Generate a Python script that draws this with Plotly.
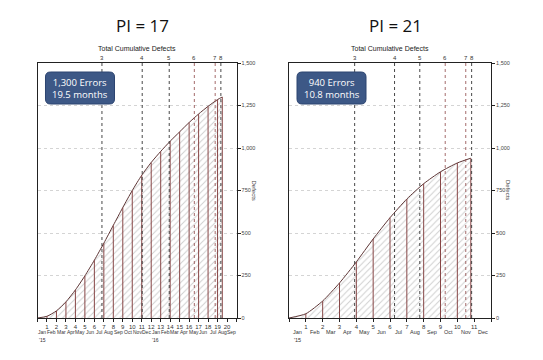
import plotly.graph_objects as go

# page body has an 8px margin: figure pixel = reference pixel - 8
OFF = 8
W, H = 543 - OFF, 360 - OFF

# ---------------- data ----------------
left_months = [0, 1, 2, 3, 4, 5, 6, 7, 8, 9, 10, 11, 12, 13, 14, 15, 16, 17, 18, 19, 19.5]
left_defects = [0, 10, 42, 95, 165, 248, 340, 440, 545, 650, 750, 840, 915, 980, 1040,
                1095, 1150, 1200, 1245, 1285, 1300]
left_milestones = [6.8, 11.05, 13.9, 16.55, 18.75, 19.35]
left_month_names = ["Jan", "Feb", "Mar", "Apr", "May", "Jun", "Jul", "Aug", "Sep", "Oct",
                    "Nov", "Dec", "Jan", "Feb", "Mar", "Apr", "May", "Jun", "Jul", "Aug", "Sep"]
left_years = {0: "'15", 12: "'16"}

right_months = [0, 1, 2, 3, 4, 5, 6, 7, 8, 9, 10, 10.8]
right_defects = [0, 25, 100, 206, 330, 465, 590, 700, 790, 860, 912, 940]
right_milestones = [3.9, 6.27, 7.77, 9.28, 10.5, 10.85]
right_month_names = ["Jan", "Feb", "Mar", "Apr", "May", "Jun", "Jul", "Aug", "Sep", "Oct",
                     "Nov", "Dec"]
right_years = {0: "'15"}

milestone_labels = ["3", "4", "5", "6", "7", "8"]
y_ticks = [0, 250, 500, 750, 1000, 1250, 1500]
y_ticktext = ["0", "250", "500", "750", "1,000", "1,250", "1,500"]

panels = [
    dict(title="PI = 17", box=["1,300 Errors", "19.5 months"], months=left_months,
         defects=left_defects, milestones=left_milestones, names=left_month_names,
         years=left_years, xmax=21, px=(37.5, 236.5), mfs=5),
    dict(title="PI = 21", box=["940 Errors", "10.8 months"], months=right_months,
         defects=right_defects, milestones=right_milestones, names=right_month_names,
         years=right_years, xmax=12, px=(289, 491), mfs=5.5),
]

TOP, BOT = 63, 318
FONT = "Liberation Sans"


def PX(x):
    return (x - OFF) / W


def PY(y):
    return 1 - (y - OFF) / H


fig = go.Figure()
annotations = []
shapes = []


def ann(**kw):
    kw.setdefault("showarrow", False)
    kw.setdefault("xanchor", "center")
    kw.setdefault("yanchor", "middle")
    annotations.append(kw)


for i, p in enumerate(panels):
    xa = "x" if i == 0 else "x2"
    ya = "y" if i == 0 else "y2"
    # hatched area
    fig.add_trace(go.Scatter(
        x=p["months"], y=p["defects"], xaxis=xa, yaxis=ya, mode="lines",
        line=dict(color="#5e3636", width=1, shape="spline", smoothing=0.6),
        fill="tozeroy",
        fillpattern=dict(shape="/", fgcolor="#a0a0a0", bgcolor="white", size=4.5, solidity=0.22),
        fillcolor="white", hoverinfo="skip", showlegend=False))
    # monthly vertical bars
    bx, by = [], []
    for m, v in zip(p["months"][1:], p["defects"][1:]):
        bx += [m, m, None]
        by += [0, v, None]
    fig.add_trace(go.Scatter(x=bx, y=by, xaxis=xa, yaxis=ya, mode="lines",
                             line=dict(color="#874646", width=1),
                             hoverinfo="skip", showlegend=False))
    # milestone dashed lines
    for j, m in enumerate(p["milestones"]):
        col = "#9a5a5a" if j in (3, 4) else "#333333"
        fig.add_trace(go.Scatter(x=[m, m], y=[0, 1500], xaxis=xa, yaxis=ya, mode="lines",
                                 line=dict(color=col, width=0.9, dash="dot"),
                                 hoverinfo="skip", showlegend=False))
        ann(x=m, xref=xa, y=PY(58.5), yref="paper", text=milestone_labels[j],
            font=dict(size=6, color="#333", family=FONT))
    # month labels
    for k, nm in enumerate(p["names"]):
        ann(x=k + 0.5, xref=xa, y=PY(332), yref="paper", text=nm,
            font=dict(size=p["mfs"], color="#333", family=FONT))
    for k, yr in p["years"].items():
        ann(x=k + 0.5, xref=xa, y=PY(340), yref="paper", text=yr,
            font=dict(size=p["mfs"], color="#333", family=FONT))
    x0, x1 = p["px"]
    xc = (x0 + x1) / 2
    # titles
    ann(x=PX(xc), xref="paper", y=PY(49), yref="paper", text="Total Cumulative Defects",
        font=dict(size=7, color="#222", family=FONT))
    ann(x=PX(xc + 5), xref="paper", y=PY(25), yref="paper", text=p["title"],
        font=dict(size=17, color="#111", family="Open Sans"))
    ann(x=PX(x1 + 17), xref="paper", y=PY(190), yref="paper", text="Defects", textangle=90,
        font=dict(size=6, color="#444", family=FONT))
    # rounded info box
    bl, br, bt, bb = x0 + 8, x0 + 77, 72, 104
    r = 5

    def P(x, y):
        return f"{PX(x):.5f},{PY(y):.5f}"
    path = (f"M {P(bl + r, bt)} L {P(br - r, bt)} Q {P(br, bt)} {P(br, bt + r)} "
            f"L {P(br, bb - r)} Q {P(br, bb)} {P(br - r, bb)} L {P(bl + r, bb)} "
            f"Q {P(bl, bb)} {P(bl, bb - r)} L {P(bl, bt + r)} Q {P(bl, bt)} {P(bl + r, bt)} Z")
    shapes.append(dict(type="path", xref="paper", yref="paper", path=path,
                       fillcolor="#3d5886", line=dict(color="#2c4470", width=1)))
    ann(x=PX((bl + br) / 2), xref="paper", y=PY((bt + bb) / 2), yref="paper",
        text="<br>".join(p["box"]), align="center",
        font=dict(size=9.5, color="white", family="Open Sans"))


def xaxis(pan, x0, x1):
    n = pan["xmax"]
    vals = list(range(0, n + 1))
    txt = [str(v) if 0 < v < n else "" for v in vals]
    return dict(domain=[PX(x0), PX(x1)], range=[0, n], tickvals=vals, ticktext=txt,
                ticks="outside", ticklen=3, tickcolor="#222",
                tickfont=dict(size=6, color="#333", family=FONT),
                showgrid=False, zeroline=False, showline=True, linecolor="#222", linewidth=1,
                mirror=True, fixedrange=True)


def yaxis(anchor):
    return dict(domain=[PY(BOT), PY(TOP)], range=[0, 1500], side="right", anchor=anchor,
                tickvals=y_ticks, ticktext=y_ticktext, ticks="outside", ticklen=3,
                tickcolor="#222", tickfont=dict(size=5.5, color="#444", family=FONT),
                showgrid=True, gridcolor="#d4d4d4", griddash="dot", gridwidth=1,
                zeroline=False, showline=True, linecolor="#222", linewidth=1, mirror=True,
                fixedrange=True)


xa1 = xaxis(panels[0], *panels[0]["px"]); xa1["anchor"] = "y"
xa2 = xaxis(panels[1], *panels[1]["px"]); xa2["anchor"] = "y2"

fig.update_layout(
    width=W, height=H, margin=dict(l=0, r=0, t=0, b=0, autoexpand=False),
    paper_bgcolor="white", plot_bgcolor="white",
    xaxis=xa1, xaxis2=xa2, yaxis=yaxis("x"), yaxis2=yaxis("x2"),
    annotations=annotations, shapes=shapes, showlegend=False,
)

fig.write_html("out.html")
